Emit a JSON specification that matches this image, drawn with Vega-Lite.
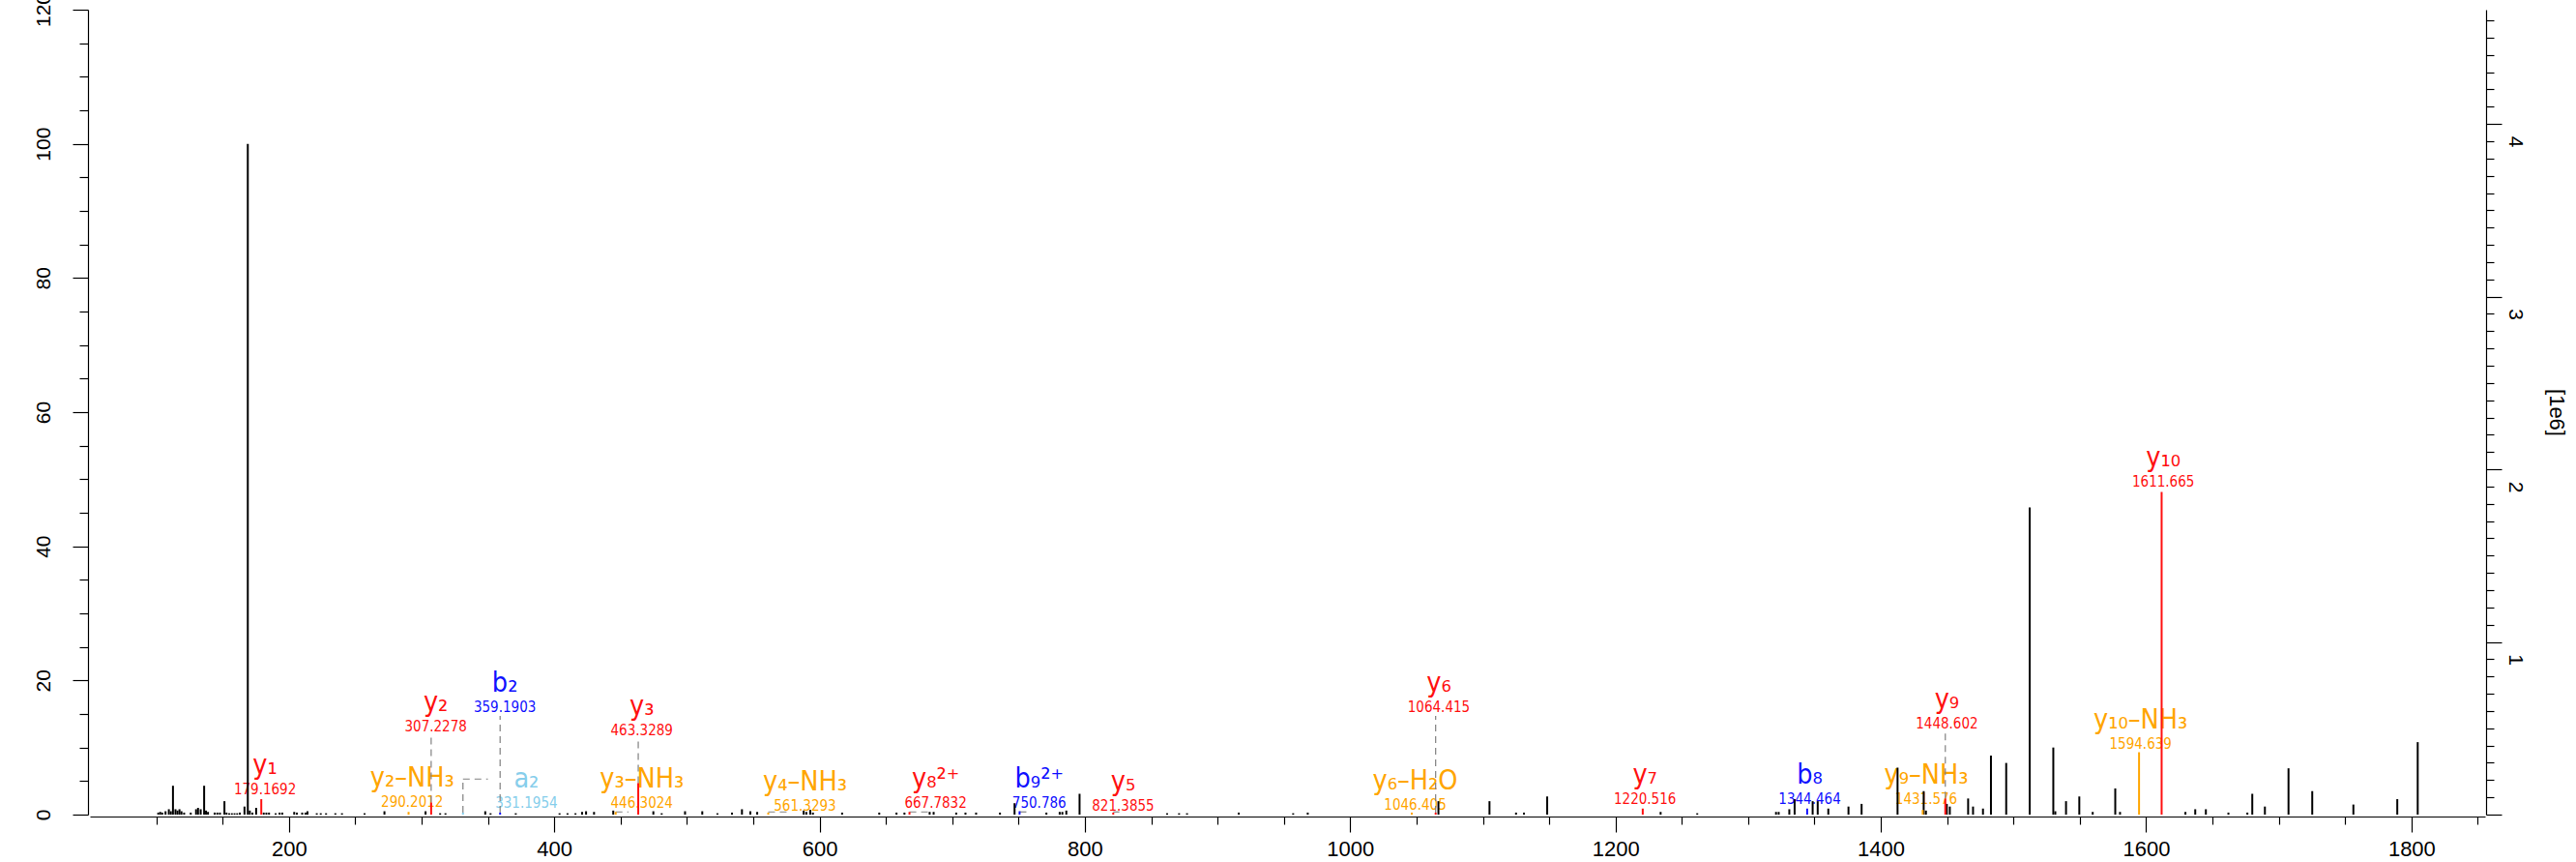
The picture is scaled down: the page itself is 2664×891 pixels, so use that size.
{
  "$schema": "https://vega.github.io/schema/vega-lite/v6.json",
  "width": 2477,
  "height": 832,
  "autosize": {"type": "none"},
  "padding": {"left": 93, "top": 10, "right": 94, "bottom": 49},
  "background": "white",
  "config": {"view": {"stroke": null}},
  "datasets": {
    "peaks": [
      {"mz": 101.5, "int": 0.3, "t": "u"}, {"mz": 103, "int": 0.4, "t": "u"}, {"mz": 104.5, "int": 0.3, "t": "u"},
      {"mz": 107, "int": 0.5, "t": "u"}, {"mz": 109.5, "int": 0.8, "t": "u"}, {"mz": 111, "int": 0.5, "t": "u"},
      {"mz": 112.6, "int": 4.3, "t": "u"}, {"mz": 114.5, "int": 0.8, "t": "u"}, {"mz": 116, "int": 0.6, "t": "u"},
      {"mz": 117.5, "int": 0.8, "t": "u"}, {"mz": 119, "int": 0.5, "t": "u"}, {"mz": 121, "int": 0.3, "t": "u"},
      {"mz": 126, "int": 0.3, "t": "u"}, {"mz": 130, "int": 0.8, "t": "u"}, {"mz": 131.5, "int": 1.0, "t": "u"},
      {"mz": 133.5, "int": 0.8, "t": "u"}, {"mz": 136.1, "int": 4.3, "t": "u"}, {"mz": 137.5, "int": 0.6, "t": "u"},
      {"mz": 139, "int": 0.4, "t": "u"}, {"mz": 144, "int": 0.3, "t": "u"}, {"mz": 146, "int": 0.3, "t": "u"},
      {"mz": 148, "int": 0.3, "t": "u"}, {"mz": 151.4, "int": 2.0, "t": "u"}, {"mz": 153, "int": 0.3, "t": "u"},
      {"mz": 155, "int": 0.2, "t": "u"}, {"mz": 157, "int": 0.2, "t": "u"}, {"mz": 159, "int": 0.2, "t": "u"},
      {"mz": 161, "int": 0.2, "t": "u"}, {"mz": 163, "int": 0.3, "t": "u"}, {"mz": 166.5, "int": 1.2, "t": "u"},
      {"mz": 169.0, "int": 100, "t": "u"}, {"mz": 170.5, "int": 0.6, "t": "u"}, {"mz": 172.5, "int": 0.3, "t": "u"},
      {"mz": 175.3, "int": 1.0, "t": "u"}, {"mz": 181, "int": 0.3, "t": "u"}, {"mz": 183, "int": 0.3, "t": "u"},
      {"mz": 185, "int": 0.3, "t": "u"}, {"mz": 190, "int": 0.2, "t": "u"}, {"mz": 193, "int": 0.3, "t": "u"},
      {"mz": 195, "int": 0.3, "t": "u"}, {"mz": 204, "int": 0.4, "t": "u"}, {"mz": 206, "int": 0.3, "t": "u"},
      {"mz": 210, "int": 0.3, "t": "u"}, {"mz": 212.5, "int": 0.3, "t": "u"}, {"mz": 214, "int": 0.5, "t": "u"},
      {"mz": 221, "int": 0.2, "t": "u"}, {"mz": 224, "int": 0.2, "t": "u"}, {"mz": 228, "int": 0.2, "t": "u"},
      {"mz": 235, "int": 0.2, "t": "u"}, {"mz": 240, "int": 0.2, "t": "u"}, {"mz": 257, "int": 0.2, "t": "u"},
      {"mz": 272, "int": 0.5, "t": "u"}, {"mz": 303, "int": 0.5, "t": "u"}, {"mz": 314, "int": 0.2, "t": "u"},
      {"mz": 318, "int": 0.2, "t": "u"}, {"mz": 348, "int": 0.5, "t": "u"}, {"mz": 352, "int": 0.2, "t": "u"},
      {"mz": 371, "int": 0.2, "t": "u"}, {"mz": 404, "int": 0.2, "t": "u"}, {"mz": 410, "int": 0.2, "t": "u"},
      {"mz": 416, "int": 0.2, "t": "u"}, {"mz": 421, "int": 0.4, "t": "u"}, {"mz": 424, "int": 0.5, "t": "u"},
      {"mz": 430, "int": 0.4, "t": "u"}, {"mz": 444.5, "int": 0.6, "t": "u"}, {"mz": 474.7, "int": 0.5, "t": "u"},
      {"mz": 481, "int": 0.2, "t": "u"}, {"mz": 498.6, "int": 0.5, "t": "u"}, {"mz": 511.6, "int": 0.5, "t": "u"},
      {"mz": 523, "int": 0.2, "t": "u"}, {"mz": 534, "int": 0.3, "t": "u"}, {"mz": 541.5, "int": 0.8, "t": "u"},
      {"mz": 547.8, "int": 0.5, "t": "u"}, {"mz": 553, "int": 0.4, "t": "u"}, {"mz": 588, "int": 0.6, "t": "u"},
      {"mz": 590, "int": 0.4, "t": "u"}, {"mz": 593, "int": 0.7, "t": "u"}, {"mz": 595, "int": 0.3, "t": "u"},
      {"mz": 617, "int": 0.3, "t": "u"}, {"mz": 645, "int": 0.3, "t": "u"}, {"mz": 658, "int": 0.3, "t": "u"},
      {"mz": 664, "int": 0.3, "t": "u"}, {"mz": 683, "int": 0.4, "t": "u"}, {"mz": 686, "int": 0.4, "t": "u"},
      {"mz": 703, "int": 0.3, "t": "u"}, {"mz": 710, "int": 0.3, "t": "u"}, {"mz": 718, "int": 0.3, "t": "u"},
      {"mz": 736, "int": 0.3, "t": "u"}, {"mz": 747, "int": 1.7, "t": "u"}, {"mz": 771, "int": 0.3, "t": "u"},
      {"mz": 781, "int": 0.4, "t": "u"}, {"mz": 783, "int": 0.4, "t": "u"}, {"mz": 786, "int": 0.6, "t": "u"},
      {"mz": 796, "int": 3.1, "t": "u"}, {"mz": 862, "int": 0.2, "t": "u"}, {"mz": 871, "int": 0.2, "t": "u"},
      {"mz": 877, "int": 0.2, "t": "u"}, {"mz": 916, "int": 0.3, "t": "u"}, {"mz": 957, "int": 0.2, "t": "u"},
      {"mz": 968, "int": 0.3, "t": "u"}, {"mz": 1066.5, "int": 2.0, "t": "u"}, {"mz": 1105, "int": 2.0, "t": "u"},
      {"mz": 1125, "int": 0.3, "t": "u"}, {"mz": 1131, "int": 0.3, "t": "u"}, {"mz": 1148.5, "int": 2.7, "t": "u"},
      {"mz": 1234, "int": 0.4, "t": "u"}, {"mz": 1261.6, "int": 0.2, "t": "u"}, {"mz": 1321, "int": 0.4, "t": "u"},
      {"mz": 1323, "int": 0.4, "t": "u"}, {"mz": 1331, "int": 0.8, "t": "u"}, {"mz": 1335, "int": 2.3, "t": "u"},
      {"mz": 1348.6, "int": 2.0, "t": "u"}, {"mz": 1352.4, "int": 2.0, "t": "u"}, {"mz": 1360.4, "int": 0.9, "t": "u"},
      {"mz": 1375.6, "int": 1.2, "t": "u"}, {"mz": 1385.5, "int": 1.6, "t": "u"}, {"mz": 1412.6, "int": 7.0, "t": "u"},
      {"mz": 1432.3, "int": 3.5, "t": "u"}, {"mz": 1434, "int": 0.6, "t": "u"}, {"mz": 1449.7, "int": 1.6, "t": "u"},
      {"mz": 1452, "int": 1.2, "t": "u"}, {"mz": 1465.8, "int": 2.4, "t": "u"}, {"mz": 1469.5, "int": 1.2, "t": "u"},
      {"mz": 1477, "int": 0.9, "t": "u"}, {"mz": 1483, "int": 8.8, "t": "u"}, {"mz": 1494.5, "int": 7.7, "t": "u"},
      {"mz": 1512.2, "int": 45.8, "t": "u"}, {"mz": 1530, "int": 10.0, "t": "u"}, {"mz": 1531.5, "int": 0.5, "t": "u"},
      {"mz": 1539.6, "int": 2.0, "t": "u"}, {"mz": 1549.6, "int": 2.7, "t": "u"}, {"mz": 1559.7, "int": 0.4, "t": "u"},
      {"mz": 1576.7, "int": 3.9, "t": "u"}, {"mz": 1580.3, "int": 0.4, "t": "u"}, {"mz": 1629.6, "int": 0.4, "t": "u"},
      {"mz": 1637, "int": 0.8, "t": "u"}, {"mz": 1645, "int": 0.8, "t": "u"}, {"mz": 1662, "int": 0.3, "t": "u"},
      {"mz": 1676.3, "int": 0.3, "t": "u"}, {"mz": 1680, "int": 3.1, "t": "u"}, {"mz": 1689.5, "int": 1.2, "t": "u"},
      {"mz": 1707.3, "int": 6.9, "t": "u"}, {"mz": 1725.2, "int": 3.5, "t": "u"}, {"mz": 1756.2, "int": 1.5, "t": "u"},
      {"mz": 1789.3, "int": 2.3, "t": "u"}, {"mz": 1804.7, "int": 10.8, "t": "u"},
      {"mz": 179.1692, "int": 2.3, "t": "y"}, {"mz": 307.2278, "int": 1.8, "t": "y"}, {"mz": 359.1903, "int": 0.3, "t": "b"},
      {"mz": 290.2012, "int": 0.4, "t": "n"}, {"mz": 331.1954, "int": 0.3, "t": "a"}, {"mz": 463.3289, "int": 4.7, "t": "y"},
      {"mz": 446.3024, "int": 0.4, "t": "n"}, {"mz": 561.3293, "int": 0.3, "t": "n"}, {"mz": 667.7832, "int": 0.4, "t": "y"},
      {"mz": 750.786, "int": 0.5, "t": "b"}, {"mz": 821.3855, "int": 0.3, "t": "y"}, {"mz": 1064.415, "int": 0.3, "t": "y"},
      {"mz": 1046.405, "int": 0.3, "t": "n"}, {"mz": 1220.516, "int": 0.9, "t": "y"}, {"mz": 1344.464, "int": 0.9, "t": "b"},
      {"mz": 1448.602, "int": 2.4, "t": "y"}, {"mz": 1431.576, "int": 0.7, "t": "n"}, {"mz": 1611.665, "int": 48.1, "t": "y"},
      {"mz": 1594.639, "int": 9.3, "t": "n"}
    ],
    "ann": [
      {"label": "y₁", "mzText": "179.1692", "lx": 182, "ly": 6.1, "t": "y"},
      {"label": "y₂", "mzText": "307.2278", "lx": 310.7, "ly": 15.4, "t": "y"},
      {"label": "b₂", "mzText": "359.1903", "lx": 362.8, "ly": 18.3, "t": "b"},
      {"label": "y₂–NH₃", "mzText": "290.2012", "lx": 292.9, "ly": 4.2, "t": "n"},
      {"label": "a₂", "mzText": "331.1954", "lx": 379, "ly": 4.0, "t": "a"},
      {"label": "y₃", "mzText": "463.3289", "lx": 466, "ly": 14.8, "t": "y"},
      {"label": "y₃–NH₃", "mzText": "446.3024", "lx": 466, "ly": 4.1, "t": "n"},
      {"label": "y₄–NH₃", "mzText": "561.3293", "lx": 589, "ly": 3.6, "t": "n"},
      {"label": "y₈²⁺", "mzText": "667.7832", "lx": 687.5, "ly": 4.0, "t": "y"},
      {"label": "b₉²⁺", "mzText": "750.786", "lx": 765.6, "ly": 4.0, "t": "b"},
      {"label": "y₅", "mzText": "821.3855", "lx": 828.8, "ly": 3.6, "t": "y"},
      {"label": "y₆", "mzText": "1064.415", "lx": 1066.8, "ly": 18.3, "t": "y"},
      {"label": "y₆–H₂O", "mzText": "1046.405", "lx": 1049, "ly": 3.8, "t": "n"},
      {"label": "y₇", "mzText": "1220.516", "lx": 1222.2, "ly": 4.6, "t": "y"},
      {"label": "b₈", "mzText": "1344.464", "lx": 1346.4, "ly": 4.6, "t": "b"},
      {"label": "y₉", "mzText": "1448.602", "lx": 1449.8, "ly": 15.8, "t": "y"},
      {"label": "y₉–NH₃", "mzText": "1431.576", "lx": 1434.2, "ly": 4.6, "t": "n"},
      {"label": "y₁₀", "mzText": "1611.665", "lx": 1612.9, "ly": 51.9, "t": "y"},
      {"label": "y₁₀–NH₃", "mzText": "1594.639", "lx": 1595.8, "ly": 12.9, "t": "n"}
    ],
    "lead": [
      {"x": 307.2278, "x2": 307.2278, "y": 1.8, "y2": 11.6},
      {"x": 359.1903, "x2": 359.1903, "y": 0.3, "y2": 14.7},
      {"x": 463.3289, "x2": 463.3289, "y": 4.7, "y2": 11.1},
      {"x": 1064.415, "x2": 1064.415, "y": 0.3, "y2": 14.7},
      {"x": 1448.602, "x2": 1448.602, "y": 2.4, "y2": 12.1},
      {"x": 331.1954, "x2": 331.1954, "y": 0.3, "y2": 5.3},
      {"x": 331.1954, "x2": 350, "y": 5.3, "y2": 5.3},
      {"x": 446.3, "x2": 456, "y": 0.4, "y2": 0.4},
      {"x": 561.3, "x2": 578, "y": 0.4, "y2": 0.4},
      {"x": 667.8, "x2": 682, "y": 0.4, "y2": 0.4},
      {"x": 750.8, "x2": 757, "y": 0.4, "y2": 0.4},
      {"x": 821.4, "x2": 826, "y": 0.4, "y2": 0.4}
    ]
  },
  "resolve": {"scale": {"y": "independent"}, "axis": {"x": "independent"}},
  "layer": [
    {
      "data": {"name": "ann"},
      "mark": {"type": "text", "font": "DejaVu Sans Condensed, DejaVu Sans", "fontSize": 28.5, "align": "center", "baseline": "alphabetic"},
      "encoding": {
        "x": {"field": "lx", "type": "quantitative", "scale": {"domain": [50, 1855.5], "nice": false, "zero": false}, "axis": null},
        "y": {"field": "ly", "type": "quantitative", "scale": {"domain": [0, 120], "nice": false}, "axis": null},
        "text": {"field": "label"},
        "color": {"field": "t", "type": "nominal", "scale": {"domain": ["u", "y", "b", "a", "n"], "range": ["black", "#ff1111", "#1111ff", "#87ceeb", "#ffa500"]}, "legend": null}
      }
    },
    {
      "data": {"name": "ann"},
      "mark": {"type": "text", "font": "DejaVu Sans Condensed, DejaVu Sans", "fontSize": 15, "align": "center", "baseline": "alphabetic", "dy": 21},
      "encoding": {
        "x": {"field": "lx", "type": "quantitative", "scale": {"domain": [50, 1855.5], "nice": false, "zero": false}, "axis": null},
        "y": {"field": "ly", "type": "quantitative", "scale": {"domain": [0, 120], "nice": false}, "axis": null},
        "text": {"field": "mzText"},
        "color": {"field": "t", "type": "nominal", "legend": null}
      }
    },
    {
      "data": {"name": "lead"},
      "mark": {"type": "rule", "color": "#808080", "strokeWidth": 1.2, "strokeDash": [7, 5]},
      "encoding": {
        "x": {"field": "x", "type": "quantitative", "scale": {"domain": [50, 1855.5], "nice": false, "zero": false}, "axis": null},
        "x2": {"field": "x2"},
        "y": {"field": "y", "type": "quantitative", "scale": {"domain": [0, 120], "nice": false}, "axis": null},
        "y2": {"field": "y2"}
      }
    },
    {
      "data": {"name": "peaks"},
      "mark": {"type": "rule", "strokeWidth": 2},
      "encoding": {
        "x": {
          "field": "mz", "type": "quantitative",
          "scale": {"domain": [50, 1855.5], "nice": false, "zero": false},
          "axis": {
            "values": [100,150,200,250,300,350,400,450,500,550,600,650,700,750,800,850,900,950,1000,1050,1100,1150,1200,1250,1300,1350,1400,1450,1500,1550,1600,1650,1700,1750,1800,1850],
            "title": null, "grid": false, "offset": 2, "format": "d",
            "domainColor": "black", "domainWidth": 1.2, "tickColor": "black", "tickWidth": 1.2,
            "tickSize": {"condition": {"test": "datum.value % 200 === 0", "value": 16}, "value": 8},
            "labelExpr": "datum.value % 200 === 0 ? format(datum.value, 'd') : ''",
            "labelFont": "Liberation Sans Narrow, Liberation Sans", "labelFontSize": 22, "labelColor": "black",
            "labelPadding": 17, "labelBaseline": "middle", "labelOverlap": false, "labelFlush": false
          }
        },
        "y": {
          "field": "int", "type": "quantitative",
          "scale": {"domain": [0, 120], "nice": false},
          "axis": {
            "values": [0,5,10,15,20,25,30,35,40,45,50,55,60,65,70,75,80,85,90,95,100,105,110,115,120],
            "title": null, "grid": false, "offset": 2, "orient": "left",
            "domainColor": "black", "domainWidth": 1.2, "tickColor": "black", "tickWidth": 1.2,
            "tickSize": {"condition": {"test": "datum.value % 20 === 0", "value": 16}, "value": 9},
            "labelExpr": "datum.value % 20 === 0 ? format(datum.value, 'd') : ''",
            "labelFont": "Liberation Sans Narrow, Liberation Sans", "labelFontSize": 21, "labelColor": "black",
            "labelAngle": 270, "labelAlign": "center", "labelBaseline": "middle",
            "labelPadding": 30, "labelOverlap": false, "labelFlush": false
          }
        },
        "y2": {"datum": 0},
        "color": {"field": "t", "type": "nominal", "legend": null}
      }
    },
    {
      "data": {"values": [{}]},
      "mark": {"type": "rule", "opacity": 0},
      "encoding": {
        "y": {
          "datum": 0, "type": "quantitative",
          "scale": {"domain": [0, 4.662], "nice": false},
          "axis": {
            "orient": "right",
            "values": [0,0.1,0.2,0.3,0.4,0.5,0.6,0.7,0.8,0.9,1,1.1,1.2,1.3,1.4,1.5,1.6,1.7,1.8,1.9,2,2.1,2.2,2.3,2.4,2.5,2.6,2.7,2.8,2.9,3,3.1,3.2,3.3,3.4,3.5,3.6,3.7,3.8,3.9,4,4.1,4.2,4.3,4.4,4.5,4.6],
            "title": "[1e6]", "titleAngle": 90, "titleFont": "Liberation Sans", "titleFontSize": 22, "titleFontWeight": "normal",
            "titleColor": "black", "titleX": 72, "titleY": 416, "titleAlign": "center", "titleBaseline": "middle",
            "grid": false, "offset": 1,
            "domainColor": "black", "domainWidth": 1.2, "tickColor": "black", "tickWidth": 1.2,
            "tickSize": {"condition": {"test": "abs(datum.value - round(datum.value)) < 0.001", "value": 16}, "value": 8},
            "labelExpr": "abs(datum.value - round(datum.value)) < 0.001 && datum.value > 0.5 ? format(datum.value, 'd') : ''",
            "labelFont": "Liberation Sans Narrow, Liberation Sans", "labelFontSize": 21, "labelColor": "black",
            "labelAngle": 90, "labelAlign": "center", "labelBaseline": "middle",
            "labelPadding": 13, "labelOffset": 18, "labelOverlap": false, "labelFlush": false,
            "encode": {"labels": {"update": {"angle": {"value": 90}, "align": {"value": "center"}, "baseline": {"value": "middle"}}}}
          }
        }
      }
    }
  ]
}
